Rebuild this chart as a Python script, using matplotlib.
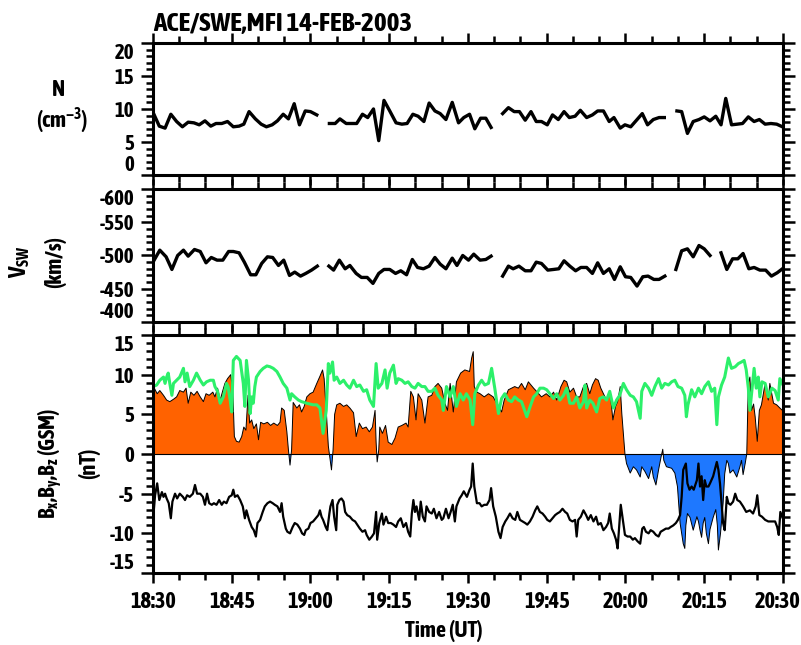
import matplotlib
matplotlib.use("Agg")
import matplotlib.pyplot as plt
import numpy as np
from matplotlib import font_manager
from matplotlib.ticker import MultipleLocator
from matplotlib.transforms import ScaledTranslation

nan = np.nan

# all times are minutes after 18:30 UT
tick_minutes = [0, 15, 30, 45, 60, 75, 90, 105, 120]
tick_labels = ["18:30", "18:45", "19:00", "19:15", "19:30", "19:45", "20:00", "20:15", "20:30"]

# proton density (cm^-3), nan = data gap
n_time = [0.0, 1.2, 2.3, 3.4, 4.5, 5.6, 6.7, 7.8, 8.8, 9.9, 11.0, 12.0, 13.1, 14.2, 15.3,
          16.4, 17.3, 18.3, 19.5, 20.6, 21.6, 22.7, 23.7, 24.8, 25.8, 26.9, 27.9, 29.0, 30.0, 31.2,
          32.4,
          33.6, 34.7, 35.6, 36.8, 37.8, 38.8, 39.9, 40.9, 42.0, 43.0, 44.0, 45.1, 46.3, 47.4, 48.4,
          49.5, 50.5, 51.6, 52.6, 53.7, 54.7, 55.8, 57.0, 58.2, 59.2, 60.3, 61.3, 62.4, 63.4, 64.4,
          65.5,
          66.6, 67.7, 68.8, 69.8, 70.9, 72.0, 73.0, 74.0, 75.1, 76.1, 77.2, 78.3, 79.3, 80.4, 81.4,
          82.6, 83.7, 84.7, 85.8, 86.9, 87.8, 89.0, 89.9, 91.0, 92.1, 93.2, 94.2, 95.3, 96.4, 97.4,
          98.6,
          99.8, 100.7, 101.8, 102.9, 104.0, 105.0, 106.1, 107.2, 108.2, 109.1, 110.2, 111.3, 112.3,
          113.4, 114.5, 115.5, 116.6, 117.7, 118.8, 119.9]
n_dens = [9.5, 7.4, 7.1, 9.2, 8.1, 7.3, 8.0, 7.9, 7.6, 8.2, 7.4, 7.8, 7.8, 8.1, 7.3,
          7.4, 7.7, 9.6, 8.5, 7.7, 7.3, 7.6, 8.2, 9.2, 8.5, 10.8, 7.6, 9.7, 9.6, 9.1,
          nan,
          7.8, 7.8, 8.5, 7.8, 7.8, 7.8, 9.2, 8.7, 10.0, 5.2, 11.3, 9.7, 7.9, 7.7, 7.8,
          9.2, 8.9, 8.1, 10.9, 9.7, 9.3, 8.4, 11.0, 7.9, 8.7, 9.2, 7.0, 8.6, 8.6, 7.2,
          nan,
          9.3, 10.2, 9.6, 9.6, 8.3, 9.6, 8.1, 8.1, 7.6, 9.1, 8.4, 9.6, 8.7, 8.9, 9.8,
          8.7, 9.1, 9.7, 9.7, 8.1, 8.7, 7.1, 7.6, 7.3, 8.3, 9.3, 7.6, 8.4, 8.7, 8.7,
          nan,
          9.7, 9.6, 6.3, 8.1, 8.4, 8.8, 8.2, 8.9, 7.6, 11.6, 7.6, 7.7, 7.8,
          8.8, 8.1, 8.4, 7.7, 7.8, 7.7, 7.3]

# solar wind speed Vx (km/s)
v_time = [0.0, 1.3, 2.5, 3.6, 4.7, 5.8, 6.7, 7.9, 9.0, 10.1, 11.1, 12.2, 13.3, 14.4, 15.3,
          16.4, 17.4, 18.6, 19.6, 20.7, 21.8, 22.8, 23.9, 24.9, 26.0, 27.0, 28.1, 29.1, 30.2, 31.3,
          32.4,
          33.5, 34.4, 35.5, 36.6, 37.5, 38.7, 39.7, 40.8, 41.9, 43.0, 44.0, 45.1, 46.2, 47.2, 48.3,
          49.4, 50.4, 51.5, 52.6, 53.7, 54.7, 55.8, 57.0, 57.9, 59.0, 60.1, 61.1, 62.3, 63.4, 64.4,
          65.5,
          66.6, 67.7, 68.6, 69.7, 70.9, 72.0, 73.0, 74.0, 75.2, 76.3, 77.3, 78.3, 79.4, 80.5, 81.5,
          82.6, 83.7, 84.7, 85.8, 86.9, 87.9, 89.0, 90.0, 91.0, 92.2, 93.3, 94.3, 95.4, 96.4, 97.5,
          98.5,
          99.6, 100.7, 101.8, 102.9, 104.0, 105.0, 106.1,
          107.1,
          108.2, 109.3, 110.4, 111.4, 112.4, 113.5, 114.5, 115.6, 116.7, 117.8, 118.9, 119.9]
v_sw = [-490, -508, -498, -479, -500, -508, -499, -509, -506, -489, -497, -493, -493, -506, -506,
        -504, -490, -471, -471, -488, -498, -497, -485, -493, -470, -475, -469, -473, -478, -484,
        nan,
        -484, -478, -493, -480, -485, -473, -467, -467, -458, -473, -479, -479, -473, -477, -471,
        -494, -482, -480, -484, -497, -487, -480, -496, -485, -500, -493, -502, -493, -494, -499,
        nan,
        -469, -484, -480, -484, -477, -477, -490, -488, -478, -479, -480, -492, -484, -477, -482,
        -482, -473, -489, -473, -480, -464, -483, -468, -467, -454, -468, -469, -464, -464, -469,
        nan,
        -479, -507, -510, -498, -515, -510, -500,
        nan,
        -504, -479, -495, -495, -503, -480, -482, -478, -478, -469, -474, -480]

# Bx (GSM), nT
bx_time = [0.0, 0.25, 0.8, 1.3, 2.0, 2.6, 3.2, 3.9, 4.5, 5.1, 5.8, 6.3, 6.7, 7.2, 7.8, 8.4, 9.0,
           9.6, 10.1, 10.7, 11.4, 11.8, 12.3, 12.8, 13.3, 13.7, 14.2, 14.8, 15.2, 15.5, 15.9, 16.4,
           16.9, 17.3, 17.7, 18.1, 18.4, 18.8, 19.2, 19.7, 20.1, 20.5, 21.1, 21.8, 22.4, 23.0, 23.7,
           24.2, 24.5, 25.0, 25.5, 25.8, 26.1, 26.4, 26.7, 27.4, 27.9, 28.3, 28.8, 29.3, 29.9, 30.5,
           31.2, 31.8, 32.3, 32.6, 33.0, 33.4, 33.7, 34.0, 34.3, 34.6, 35.0, 35.6, 36.3, 36.9, 37.5,
           38.2, 38.7, 39.3, 39.9, 40.6, 41.2, 41.8, 42.3, 42.5, 42.7, 43.0, 43.2, 43.7, 44.3, 44.8,
           45.5, 46.1, 46.7, 47.4, 48.2, 48.6, 49.1, 49.6, 50.1, 50.5, 51.2, 51.8, 52.4, 53.1, 53.7,
           54.3, 55.0, 55.6, 56.1, 56.6, 57.2, 57.8, 58.6, 59.4, 60.3, 60.7, 61.0, 61.2, 61.7, 62.3,
           63.1, 63.9, 64.8, 65.8, 66.4, 66.9, 67.7, 68.3, 68.9, 69.6, 70.2, 70.9, 71.5, 72.5, 73.2,
           74.0, 74.9, 75.6, 76.3, 76.9, 77.7, 78.3, 78.8, 79.4, 80.1, 80.7, 81.3, 82.0, 82.6, 83.2,
           83.7, 84.3, 84.8, 85.3, 85.8, 86.4, 87.1, 87.6, 88.1, 88.5, 89.0, 89.3, 89.6, 89.9,
           90.2, 90.9, 91.5, 92.1, 92.8, 93.1, 93.7, 94.4, 95.0, 95.3, 95.8, 96.3, 96.8, 97.1, 97.3,
           97.8, 98.8, 99.4, 99.9, 100.4, 101.0, 101.3, 101.5, 101.8, 102.3, 102.9, 103.6, 103.9,
           104.2, 104.5, 104.8, 105.1, 105.4, 105.8, 106.1, 106.7, 107.2, 107.5, 107.7, 108.1,
           108.6, 108.9, 109.3, 109.6, 109.9, 110.5, 111.2, 111.8, 112.1, 112.4, 112.8, 113.1,
           113.4, 113.7, 114.0, 114.4, 114.7, 115.1, 115.5, 115.9, 116.6, 117.2, 117.5, 118.2,
           118.8, 119.4, 119.9]
bx = [5.8, 8.3, 7.6, 8.0, 7.4, 6.8, 6.6, 6.9, 7.2, 8.0, 7.8, 8.3, 6.4, 7.8, 7.4, 7.9, 7.2,
      6.6, 7.6, 7.4, 7.8, 7.2, 8.3, 6.8, 8.0, 8.9, 9.5, 10.0, 8.0, 2.2, 1.6, 1.5,
      2.2, 3.4, 3.0, 7.4, 3.9, 4.3, 3.2, 3.8, 1.8, 4.0, 3.8, 4.0, 3.6, 3.9, 3.6,
      4.0, 5.8, 5.5, 2.8, 0.5, -1.4, 0.5, 6.5, 5.8, 6.2, 5.3, 6.0, 7.2, 7.6, 7.8,
      8.9, 9.8, 10.6, 9.5, 5.5, 1.0, -0.5, -2.0, 0.5, 5.0, 6.2, 6.4, 6.0, 6.2, 5.8,
      5.2, 2.2, 3.9, 3.2, 3.4, 2.8, 3.4, 5.5, 1.5, -1.0, 0.5, 3.4, 2.6, 3.6, 1.5,
      1.2, 2.0, 3.4, 3.6, 3.9, 3.4, 7.9, 7.2, 4.3, 7.6, 6.8, 3.9, 7.2, 7.4, 8.5,
      8.9, 8.3, 6.4, 5.5, 8.9, 5.3, 9.1, 10.2, 10.6, 10.4, 12.1, 12.9, 8.5, 7.8, 7.6,
      7.2, 7.6, 7.2, 6.0, 5.3, 6.8, 8.1, 8.3, 8.5, 8.3, 8.9, 8.1, 9.1, 8.3, 7.8,
      7.2, 7.6, 7.2, 7.8, 6.8, 8.5, 9.3, 9.1, 7.8, 8.3, 7.2, 7.2, 8.5, 8.9, 7.6,
      8.7, 9.5, 9.3, 8.3, 7.6, 6.8, 7.6, 4.3, 6.0, 6.6, 8.5, 5.1, 2.5, 0.0,
      -1.2, -2.4, -1.6, -2.0, -2.9, -1.6, -2.2, -3.1, -1.6, -2.9, -3.9, -2.0, -0.3, 0.6, -0.8,
      -1.6, -1.8, -2.4, -4.1, -8.7, -11.3, -11.9, -9.0, -7.5, -8.0, -9.6, -7.9, -8.5,
      -9.6, -10.5, -8.7, -8.0, -10.0, -11.3, -9.5, -8.0, -7.0, -9.0, -12.1, -10.0,
      -6.2, -2.5, -0.8, -1.2, -2.4, -2.0, -2.9, -1.6, -0.8, -2.6, -1.2, 0.0,
      8.9, 9.7, 5.5, 6.3, 4.7, 1.6, 5.5, 6.2, 8.9, 6.8, 8.9, 6.4,
      6.2, 5.8, 5.5]

# By (GSM), nT
by_time = [0.0, 0.7, 1.3, 2.0, 2.3, 2.6, 2.9, 3.2, 3.6, 3.9, 4.5, 5.1, 5.8, 6.1, 6.5, 7.0, 7.7,
           8.3, 9.0, 9.6, 10.2, 10.9, 11.5, 11.8, 12.3, 12.8, 13.4, 14.0, 14.3, 14.7, 15.0, 15.3,
           15.9, 16.6, 17.2, 17.5, 17.8, 18.2, 18.5, 18.8, 19.1, 19.4, 19.7, 20.4, 21.0, 21.7, 22.3,
           22.9, 23.6, 24.2, 24.8, 25.5, 26.1, 26.4, 27.0, 27.7, 28.3, 29.3, 30.5, 31.2, 31.8, 32.4,
           33.0, 33.4, 33.7, 34.2, 34.5, 35.0, 35.6, 36.3, 36.9, 37.5, 38.2, 38.8, 39.4, 40.1, 40.7,
           41.3, 42.0, 42.5, 42.9, 43.6, 44.2, 44.6, 45.1, 45.8, 46.3, 46.7, 47.4, 48.0, 48.6, 49.3,
           49.9, 50.5, 51.2, 51.8, 52.4, 53.1, 53.7, 54.3, 55.0, 55.3, 55.9, 56.6, 57.2, 57.8, 58.5,
           59.1, 59.7, 60.4, 60.9, 61.3, 62.0, 62.6, 63.2, 63.9, 64.5, 65.1, 65.8, 66.4, 67.0, 67.7,
           68.3, 68.9, 69.6, 70.2, 71.2, 71.8, 72.5, 73.1, 73.7, 74.4, 75.0, 75.6, 76.3, 76.9, 77.5,
           78.2, 78.8, 79.4, 80.1, 80.7, 81.3, 82.0, 82.3, 82.6, 83.2, 83.8, 84.5, 85.1, 85.8, 86.4,
           87.0, 87.7, 88.3, 88.9, 89.6, 90.2, 90.9, 91.5, 92.1, 92.8, 93.1, 93.7, 94.4, 95.0, 95.6,
           96.3, 96.9, 97.5, 98.2, 98.8, 99.4, 100.0, 100.7, 101.3, 101.6, 101.9, 102.6, 103.2,
           103.9, 104.5, 105.1, 105.8, 106.4, 107.0, 107.4, 107.7, 108.3, 108.9, 109.6, 110.2,
           110.9, 111.5, 112.1, 112.6, 113.0, 113.4, 113.7, 114.2, 114.5, 114.9, 115.3, 115.6,
           116.0, 116.6, 117.2, 117.9, 118.5, 119.1, 119.4, 120.0]
by = [8.5, 8.7, 9.3, 9.7, 8.9, 9.7, 10.2, 8.9, 7.4, 8.9, 9.3, 9.7, 10.8, 9.1, 10.2, 8.5, 9.3,
      10.2, 9.3, 8.7, 9.1, 9.3, 9.3, 8.5, 7.9, 6.4, 7.2, 8.9, 8.5, 6.8, 5.3, 11.8,
      12.3, 11.8, 8.9, 6.0, 11.8, 9.3, 5.1, 7.2, 6.4, 8.5, 9.7, 10.4, 10.8, 11.1, 11.0,
      10.8, 10.4, 9.7, 8.9, 8.3, 6.8, 7.6, 7.2, 6.8, 6.6, 6.4, 6.2, 6.2, 5.8, 2.6,
      5.5, 11.4, 10.2, 11.6, 9.3, 9.7, 8.9, 9.3, 8.7, 8.3, 9.3, 8.5, 8.7, 7.9, 8.1,
      6.8, 6.0, 11.4, 8.3, 8.9, 10.6, 8.3, 10.2, 11.2, 8.9, 9.5, 9.3, 8.9, 9.1, 8.5,
      8.3, 8.9, 8.5, 8.5, 7.9, 7.9, 8.3, 7.4, 6.8, 5.5, 8.5, 7.2, 8.5, 6.0, 7.6,
      6.8, 7.6, 6.8, 3.7, 7.6, 8.7, 9.3, 8.7, 8.9, 10.8, 8.3, 5.1, 7.0, 7.6, 6.8,
      6.6, 7.2, 6.8, 6.6, 4.7, 5.9, 7.2, 7.6, 8.3, 8.3, 8.1, 7.6, 7.0, 7.6, 6.8,
      7.4, 8.3, 6.4, 6.4, 7.2, 5.8, 6.6, 8.7, 5.8, 6.8, 6.4, 5.3, 7.0, 7.2, 6.8,
      7.9, 5.8, 6.8, 7.4, 8.9, 8.1, 7.4, 7.2, 6.6, 4.5, 7.9, 8.9, 8.3, 7.4, 8.5,
      9.5, 8.3, 8.9, 8.7, 9.1, 9.3, 8.5, 8.3, 7.4, 4.7, 6.2, 8.1, 7.2,
      8.3, 7.6, 8.5, 9.1, 7.9, 8.3, 3.7, 7.2, 8.7, 9.7, 12.1, 10.8,
      11.0, 11.4, 11.6, 11.8, 10.6, 8.3, 5.5, 8.9, 10.8, 8.3, 9.7, 7.2,
      9.1, 8.9, 7.2, 8.3, 8.0, 6.8, 9.5, 8.7]

# Bz (GSM), nT
bz_time = [0.0, 0.4, 0.8, 1.2, 1.7, 2.0, 2.3, 2.6, 3.0, 3.4, 3.7, 4.2, 4.6, 5.1, 5.7, 6.1, 6.5,
           7.0, 7.6, 8.0, 8.4, 9.0, 9.5, 9.9, 10.3, 10.7, 11.2, 11.6, 12.1, 12.6, 13.1, 13.5, 14.0,
           14.5, 15.0, 15.3, 15.6, 16.1, 16.6, 17.1, 17.5, 17.8, 18.3, 18.8, 19.2, 19.6, 19.9, 20.4,
           20.9, 21.3, 21.8, 22.3, 22.8, 23.2, 23.7, 24.2, 24.5, 24.8, 25.3, 25.6, 26.1, 26.6, 27.0,
           27.5, 28.0, 28.4, 28.8, 29.1, 29.6, 30.0, 30.5, 31.0, 31.5, 31.8, 32.1, 32.4, 32.9, 33.2,
           33.6, 33.8, 34.2, 34.5, 34.9, 35.1, 35.5, 35.9, 36.3, 36.6, 37.0, 37.5, 38.0, 38.5, 38.9,
           39.4, 39.9, 40.4, 40.7, 41.2, 41.7, 42.1, 42.5, 42.7, 43.1, 43.6, 43.9, 44.4, 44.8, 45.3,
           45.8, 46.3, 46.7, 47.2, 47.7, 48.2, 48.6, 49.0, 49.3, 49.6, 49.9, 50.2, 50.7, 51.0, 51.4,
           51.8, 52.1, 52.6, 53.1, 53.5, 54.0, 54.5, 55.0, 55.3, 55.8, 56.3, 56.7, 57.1, 57.5, 57.8,
           58.4, 58.8, 59.2, 59.8, 60.3, 60.6, 60.9, 61.2, 61.7, 62.2, 62.6, 63.1, 63.6, 64.1, 64.4,
           64.8, 65.3, 65.8, 66.2, 66.6, 67.1, 67.5, 68.0, 68.5, 69.0, 69.4, 69.9, 70.4, 70.9, 71.3,
           71.8, 72.3, 72.8, 73.2, 73.7, 74.2, 74.7, 75.1, 75.6, 76.1, 76.6, 77.0, 77.5, 78.0, 78.5,
           78.9, 79.4, 79.9, 80.4, 80.7, 81.0, 81.5, 82.0, 82.5, 82.9, 83.4, 83.9, 84.4, 84.8, 85.3,
           85.8, 86.3, 86.7, 87.0, 87.4, 87.8, 88.2, 88.5, 88.8, 89.1, 89.5, 89.9, 90.4, 90.9, 91.4,
           91.8, 92.3, 92.8, 93.2, 93.5, 93.9, 94.4, 94.8, 95.3, 95.8, 96.3, 96.7, 97.2, 97.7, 98.2,
           98.6, 99.1, 99.6, 100.0, 100.4, 100.7, 101.0, 101.5, 101.8, 102.2, 102.6, 103.0, 103.6,
           103.9, 104.2, 104.5, 104.8, 105.1, 105.4, 105.8, 106.1, 106.7, 107.4, 107.7, 108.0,
           108.3, 108.6, 108.9, 109.3, 109.6, 110.0, 110.5, 110.9, 111.3, 111.8, 112.4, 113.0,
           113.7, 114.3, 114.8, 115.1, 115.5, 116.0, 116.6, 117.2, 117.8, 118.5, 118.9, 119.2,
           119.5, 119.9]
bz = [-8.3, -5.2, -3.7, -5.8, -4.8, -5.4, -5.0, -5.6, -6.2, -8.1, -6.0, -5.0, -5.6, -5.0, -5.4, -5.8, -5.2,
      -5.4, -5.0, -3.9, -5.0, -5.0, -5.4, -6.4, -5.0, -6.2, -6.4, -6.2, -6.4, -5.8, -6.4, -6.0, -6.2,
      -5.4, -5.2, -4.5, -5.4, -5.2, -5.8, -6.6, -8.1, -7.1, -8.3, -9.2, -9.6, -10.4, -8.7, -8.3,
      -7.3, -6.6, -6.2, -6.0, -6.2, -6.4, -6.6, -7.3, -6.2, -7.9, -9.4, -9.8, -10.0, -9.2, -8.7,
      -8.9, -9.4, -10.0, -10.2, -9.6, -9.4, -8.7, -8.5, -8.1, -7.7, -7.1, -7.9, -8.3, -9.2, -9.6,
      -7.5, -6.6, -5.8, -7.9, -9.6, -6.4, -5.8, -5.6, -6.0, -7.3, -7.7, -7.9, -8.3, -8.5, -8.9,
      -9.4, -9.8, -9.6, -10.2, -10.8, -10.4, -10.0, -7.3, -10.8, -8.7, -7.5, -8.9, -7.9, -8.7, -8.7,
      -8.9, -9.2, -8.5, -8.1, -9.2, -8.7, -9.8, -10.4, -7.5, -5.8, -7.3, -6.6, -8.3, -6.0, -7.9,
      -8.5, -6.6, -7.3, -7.5, -6.9, -8.1, -7.3, -8.3, -8.1, -6.9, -8.1, -7.3, -6.4, -8.5, -6.6,
      -5.6, -5.2, -4.7, -5.4, -4.5, -4.1, -1.2, -4.1, -6.2, -6.2, -6.6, -6.4, -6.4, -5.8, -4.3,
      -6.6, -7.9, -9.8, -10.6, -9.2, -8.5, -8.1, -7.5, -8.1, -8.3, -7.3, -8.3, -8.5, -8.7, -8.9,
      -8.5, -7.9, -7.1, -6.6, -7.3, -7.5, -7.9, -8.3, -8.5, -8.1, -7.7, -7.5, -7.3, -6.9, -7.3,
      -7.5, -8.3, -8.5, -8.3, -10.4, -8.3, -7.9, -7.1, -7.7, -8.3, -7.7, -8.5, -7.9, -8.9, -8.7,
      -9.6, -9.2, -8.7, -7.5, -9.4, -10.0, -10.8, -11.9, -9.2, -6.4, -8.3, -10.2, -10.4, -10.4, -10.8,
      -10.6, -11.0, -11.3, -9.4, -9.2, -9.8, -10.0, -9.6, -9.8, -10.2, -10.4, -9.8, -9.6, -9.4, -9.4,
      -9.2, -9.0, -8.7, -8.3, -7.7, -5.4, -2.0, -1.2, -3.7, -4.5, -4.1, -4.5, -3.3,
      -1.2, -4.1, -2.8, -5.8, -3.3, -4.1, -4.1, -3.7, -2.8, -1.0, -2.0, -3.7,
      -6.2, -8.7, -9.6, -5.4, -6.2, -6.4, -6.0, -5.0, -5.8, -6.0, -6.6, -7.3,
      -7.1, -7.5, -6.6, -5.2, -7.7, -7.9, -8.3, -8.5, -8.5, -8.5, -9.2, -10.2,
      -7.3, -8.0]


def pick_font():
    # the original uses a narrow bold sans; take one if the system has it
    cands = []
    for f in font_manager.fontManager.ttflist:
        path = f.fname.lower()
        if ("narrow" in path or "condensed" in path) and "mono" not in path \
                and "serif" not in path:
            cands.append(f)
    cands.sort(key=lambda f: ("bold" not in f.fname.lower(), f.name))
    if cands:
        return cands[0].name, cands[0].stretch
    return "Liberation Sans", "normal"


font_name, font_stretch = pick_font()
plt.rcParams["font.family"] = [font_name, "DejaVu Sans"]
plt.rcParams["font.stretch"] = font_stretch
plt.rcParams["font.weight"] = "bold"
plt.rcParams["axes.unicode_minus"] = False
plt.rcParams["mathtext.fontset"] = "custom"
plt.rcParams["mathtext.rm"] = font_name + ":bold"
plt.rcParams["mathtext.it"] = font_name + ":bold"
plt.rcParams["mathtext.bf"] = font_name + ":bold"

fig = plt.figure(figsize=(8.01, 6.45), dpi=100)
ax_n = fig.add_axes([0.191, 0.7287, 0.7865, 0.2047])
ax_v = fig.add_axes([0.191, 0.5008, 0.7865, 0.2062])
ax_b = fig.add_axes([0.191, 0.1116, 0.7865, 0.369])


def style(ax, yticks, ylim, yminor, show_x=False):
    ax.set_xlim(0, 120)
    ax.set_xticks(tick_minutes)
    ax.xaxis.set_minor_locator(MultipleLocator(5))
    if show_x:
        ax.set_xticklabels(tick_labels)
    else:
        ax.set_xticklabels([])
    ax.set_ylim(*ylim)
    ax.set_yticks(yticks)
    ax.yaxis.set_minor_locator(MultipleLocator(yminor))
    for s in ax.spines.values():
        s.set_linewidth(2.2)
    ax.tick_params(which="both", direction="out", top=True, right=True,
                   width=1.8, labelsize=15)
    ax.tick_params(axis="y", which="major", length=8.5, pad=5)
    ax.tick_params(axis="y", which="minor", length=5)
    ax.tick_params(axis="x", which="major", length=7, pad=6, labelsize=16)
    ax.tick_params(axis="x", which="minor", length=5)
    ticks = ax.yaxis.get_major_ticks()
    lo, hi = (ticks[0], ticks[-1])
    if ylim[0] > ylim[1]:
        lo, hi = hi, lo
    lo.label1.set_verticalalignment("bottom")
    hi.label1.set_verticalalignment("top")


ax_n.plot(n_time, n_dens, color="k", lw=2.4)
style(ax_n, [0, 5, 10, 15, 20], (0, 20), 1)

ax_v.plot(v_time, v_sw, color="k", lw=2.4)
style(ax_v, [-600, -550, -500, -450, -400], (-400, -600), 10)

t = np.array(bx_time)
b = np.array(bx)
ax_b.fill_between(t, b, 0, where=b >= 0, interpolate=True, color="#ff6200", lw=0)
ax_b.fill_between(t, b, 0, where=b <= 0, interpolate=True, color="#1e78ff", lw=0)
ax_b.plot(t, b, color="k", lw=0.7)
ax_b.axhline(0, color="k", lw=0.8)
ax_b.plot(by_time, by, color="#2cf06a", lw=2.2)
ax_b.plot(bz_time, bz, color="k", lw=1.6)
style(ax_b, [-15, -10, -5, 0, 5, 10, 15], (-15, 15), 1, show_x=True)

# keep the last time label inside the canvas
last = ax_b.xaxis.get_major_ticks()[-1].label1
last.set_transform(last.get_transform() + ScaledTranslation(-4 / 72, 0, fig.dpi_scale_trans))

fig.text(0.191, 0.964, "ACE/SWE,MFI 14-FEB-2003", ha="left", va="center", fontsize=19.5)
fig.text(0.0724, 0.8605, "N", ha="center", va="center", fontsize=16)
fig.text(0.0774, 0.813, "(cm$^{-3}$)", ha="center", va="center", fontsize=16)
fig.text(0.025, 0.594, "V$_{\\mathrm{SW}}$", ha="center", va="center", fontsize=17,
         rotation=90)
fig.text(0.0687, 0.594, "(km/s)", ha="center", va="center", fontsize=16, rotation=90)
fig.text(0.0624, 0.282, "B$_x$,B$_y$,B$_z$ (GSM)", ha="center", va="center",
         fontsize=16, rotation=90)
fig.text(0.111, 0.282, "(nT)", ha="center", va="center", fontsize=16, rotation=90)
fig.text(0.554, 0.0217, "Time (UT)", ha="center", va="center", fontsize=16)

fig.savefig("out.png", dpi=100)
